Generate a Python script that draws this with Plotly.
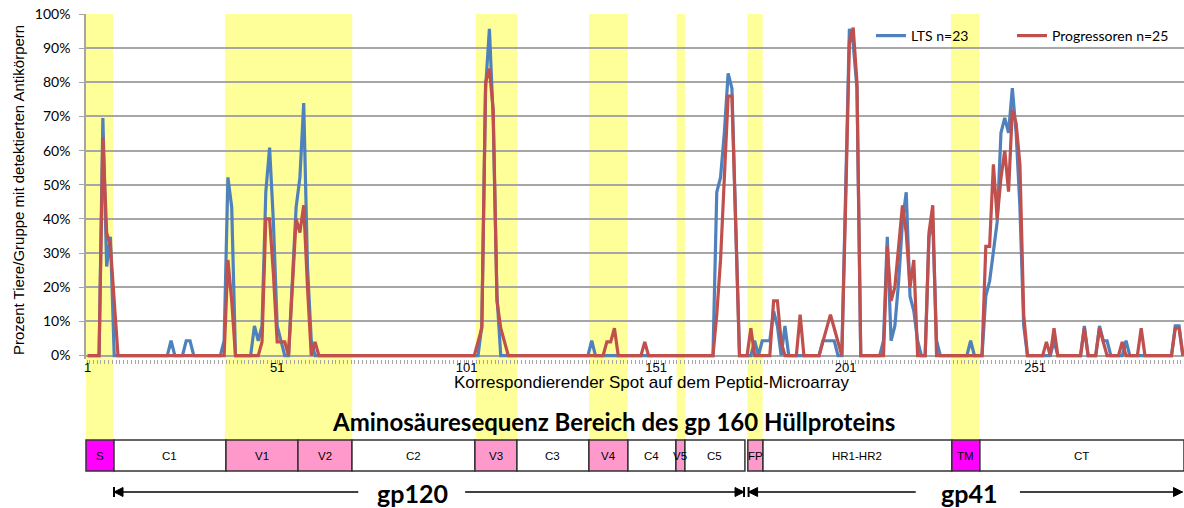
import plotly.graph_objects as go

# ---- peptide spot numbers and reactivity (% of animals per group) ----
spots = list(range(1, 291))

lts = [
    0, 0, 0, 0, 69.57, 26.09, 34.78, 0, 0, 0,
    0, 0, 0, 0, 0, 0, 0, 0, 0, 0,
    0, 0, 4.35, 0, 0, 0, 4.35, 4.35, 0, 0,
    0, 0, 0, 0, 0, 0, 4.35, 52.17, 43.48, 0,
    0, 0, 0, 0, 8.70, 4.35, 8.70, 47.83, 60.87, 39.13,
    8.70, 4.35, 0, 0, 21.74, 43.48, 52.17, 73.91, 26.09, 4.35,
    0, 0, 0, 0, 0, 0, 0, 0, 0, 0,
    0, 0, 0, 0, 0, 0, 0, 0, 0, 0,
    0, 0, 0, 0, 0, 0, 0, 0, 0, 0,
    0, 0, 0, 0, 0, 0, 0, 0, 0, 0,
    0, 0, 0, 0, 8.70, 78.26, 95.65, 69.57, 17.39, 0,
    0, 0, 0, 0, 0, 0, 0, 0, 0, 0,
    0, 0, 0, 0, 0, 0, 0, 0, 0, 0,
    0, 0, 0, 4.35, 0, 0, 0, 0, 0, 0,
    0, 0, 0, 0, 0, 0, 0, 0, 0, 0,
    0, 0, 0, 0, 0, 0, 0, 0, 0, 0,
    0, 0, 0, 0, 0, 0, 47.83, 52.17, 65.22, 82.61,
    78.26, 39.13, 0, 0, 0, 0, 4.35, 0, 4.35, 4.35,
    4.35, 13.04, 8.70, 0, 8.70, 0, 0, 0, 0, 0,
    0, 0, 0, 0, 4.35, 4.35, 4.35, 4.35, 0, 0,
    47.83, 95.65, 91.30, 78.26, 0, 0, 0, 0, 0, 0,
    4.35, 34.78, 4.35, 8.70, 21.74, 39.13, 47.83, 17.39, 13.04, 4.35,
    0, 0, 34.78, 39.13, 4.35, 0, 0, 0, 0, 0,
    0, 0, 0, 4.35, 0, 0, 0, 17.39, 21.74, 30.43,
    39.13, 65.22, 69.57, 65.22, 78.26, 65.22, 43.48, 8.70, 0, 0,
    0, 0, 0, 0, 0, 4.35, 0, 0, 0, 0,
    0, 0, 0, 8.70, 0, 0, 0, 8.70, 4.35, 4.35,
    0, 0, 0, 0, 4.35, 0, 0, 0, 0, 0,
    0, 0, 0, 0, 0, 0, 0, 8.70, 8.70, 0,
]

progressoren = [
    0, 0, 0, 0, 64, 36, 32, 16, 0, 0,
    0, 0, 0, 0, 0, 0, 0, 0, 0, 0,
    0, 0, 0, 0, 0, 0, 0, 0, 0, 0,
    0, 0, 0, 0, 0, 0, 0, 28, 16, 0,
    0, 0, 0, 0, 0, 0, 4, 40, 40, 24,
    4, 4, 4, 0, 20, 40, 36, 44, 20, 0,
    4, 0, 0, 0, 0, 0, 0, 0, 0, 0,
    0, 0, 0, 0, 0, 0, 0, 0, 0, 0,
    0, 0, 0, 0, 0, 0, 0, 0, 0, 0,
    0, 0, 0, 0, 0, 0, 0, 0, 0, 0,
    0, 0, 0, 4, 8, 80, 84, 72, 16, 8,
    4, 0, 0, 0, 0, 0, 0, 0, 0, 0,
    0, 0, 0, 0, 0, 0, 0, 0, 0, 0,
    0, 0, 0, 0, 0, 0, 0, 4, 4, 8,
    0, 0, 0, 0, 0, 0, 0, 4, 0, 0,
    0, 0, 0, 0, 0, 0, 0, 0, 0, 0,
    0, 0, 0, 0, 0, 0, 12, 28, 52, 76,
    76, 40, 0, 0, 0, 8, 0, 0, 0, 0,
    0, 16, 16, 4, 0, 0, 0, 0, 12, 0,
    0, 0, 0, 0, 4, 8, 12, 8, 4, 0,
    44, 92, 96, 80, 0, 0, 0, 0, 0, 0,
    0, 32, 16, 20, 32, 44, 36, 20, 28, 0,
    0, 0, 36, 44, 0, 0, 0, 0, 0, 0,
    0, 0, 0, 0, 0, 0, 0, 32, 32, 56,
    40, 52, 60, 48, 72, 68, 56, 12, 0, 0,
    0, 0, 0, 4, 0, 8, 0, 0, 0, 0,
    0, 0, 0, 8, 0, 0, 0, 8, 4, 0,
    0, 0, 0, 4, 0, 0, 0, 0, 8, 0,
    0, 0, 0, 0, 0, 0, 0, 8, 8, 0,
]

x_tick_vals = [1, 51, 101, 151, 201, 251]
y_tick_vals = [0, 10, 20, 30, 40, 50, 60, 70, 80, 90, 100]
y_tick_text = [f"{v}%" for v in y_tick_vals]

# gp160 domain map (in spot units)
region_names = ["S", "C1", "V1", "V2", "C2", "V3", "C3", "V4", "C4",
                "V5", "C5", "FP", "HR1-HR2", "TM", "CT"]
region_start = [0.55, 7.94, 37.49, 56.49, 70.74, 103.19, 114.27, 133.27,
                143.56, 156.23, 158.6, 175.2, 179.2, 229.05, 236.44]
region_end = [7.94, 37.49, 56.49, 70.74, 103.19, 114.27, 133.27, 143.56,
              156.23, 158.6, 174.43, 179.2, 229.05, 236.44, 290.3]
region_fill = ["#FF00FF", "#FFFFFF", "#FF99CC", "#FF99CC", "#FFFFFF",
               "#FF99CC", "#FFFFFF", "#FF99CC", "#FFFFFF", "#FF99CC",
               "#FFFFFF", "#FF99CC", "#FFFFFF", "#FF00FF", "#FFFFFF"]

# highlighted (variable / signal / fusion / transmembrane) stretches
band_start = [0.55, 37.2, 103.4, 133.3, 156.4, 175.1, 228.8]
band_end = [7.68, 70.8, 114.3, 143.5, 158.6, 179.1, 236.3]

# gp120 / gp41 arrows: (start, end, head side)
arrow_segments = [(7.94, 72.4, "left"), (100.6, 174.2, "right"),
                  (175.4, 219.5, "left"), (247.0, 289.9, "right")]
protein_labels = ["gp120", "gp41"]
protein_label_x = [86.6, 233.5]

X0, X1 = 0.55, 290.3
W, H = 1184, 508
M_L, M_R, M_T, M_B = 86, 0, 14, 149
PLOT_W = W - M_L - M_R
PLOT_H = H - M_T - M_B


def xp(s):
    return (s - X0) / (X1 - X0)


def yp(py):
    return (H - M_B - py) / PLOT_H


BLUE = "#4F81BD"
RED = "#C0504D"
GRID = "#A6A6A6"

fig = go.Figure()
fig.add_trace(go.Scatter(x=spots, y=lts, mode="lines", name="LTS n=23",
                         line=dict(color=BLUE, width=3.2), legend="legend"))
fig.add_trace(go.Scatter(x=spots, y=progressoren, mode="lines",
                         name="Progressoren n=25",
                         line=dict(color=RED, width=3.2), legend="legend2"))

shapes = []
# yellow highlight bands, running down to the domain map
for a, b in zip(band_start, band_end):
    shapes.append(dict(type="rect", xref="paper", yref="paper",
                       x0=xp(a), x1=xp(b), y0=yp(440), y1=1.0,
                       fillcolor="#FFFF99", line=dict(width=0), layer="below"))

# domain boxes
annotations = []
for name, a, b, fc in zip(region_names, region_start, region_end, region_fill):
    shapes.append(dict(type="rect", xref="paper", yref="paper",
                       x0=xp(a), x1=xp(b), y0=yp(471), y1=yp(440),
                       fillcolor=fc, line=dict(color="#333333", width=1.5)))
    annotations.append(dict(text=name, xref="paper", yref="paper",
                            x=xp((a + b) / 2), y=yp(456), showarrow=False,
                            font=dict(family="Liberation Sans", size=11.5,
                                      color="#000000"),
                            xanchor="center", yanchor="middle"))

# arrows for gp120 / gp41
ya = yp(492)
for a, b, side in arrow_segments:
    shapes.append(dict(type="line", xref="paper", yref="paper",
                       x0=xp(a), x1=xp(b), y0=ya, y1=ya,
                       line=dict(color="#000000", width=1.5)))
    tip = a if side == "left" else b
    d = 1 if side == "left" else -1
    hx = 9 / PLOT_W  # head length in paper units
    hy = 4.5 / PLOT_H
    tx = xp(tip)
    shapes.append(dict(type="path", xref="paper", yref="paper",
                       path=f"M {tx},{ya} L {tx + d * hx},{ya + hy} "
                            f"L {tx + d * hx},{ya - hy} Z",
                       fillcolor="#000000", line=dict(color="#000000", width=1)))
    if tip < 289:
        shapes.append(dict(type="line", xref="paper", yref="paper",
                           x0=tx, x1=tx, y0=ya - 5 / PLOT_H, y1=ya + 5 / PLOT_H,
                           line=dict(color="#000000", width=2)))

for lab, lx in zip(protein_labels, protein_label_x):
    annotations.append(dict(text=f"<b>{lab}</b>", xref="paper", yref="paper",
                            x=xp(lx), y=yp(492.5), showarrow=False,
                            font=dict(family="Lato", size=25, color="#000000"),
                            xanchor="center", yanchor="middle"))

annotations.append(dict(text="Korrespondierender Spot auf dem Peptid-Microarray",
                        xref="paper", yref="paper", x=(651 - M_L) / PLOT_W,
                        y=yp(382), showarrow=False,
                        font=dict(family="Liberation Sans", size=17,
                                  color="#000000"),
                        xanchor="center", yanchor="middle"))
annotations.append(dict(text="<b>Aminosäuresequenz Bereich des gp 160 Hüllproteins</b>",
                        xref="paper", yref="paper", x=(613 - M_L) / PLOT_W,
                        y=yp(421), showarrow=False,
                        font=dict(family="Lato", size=24, color="#000000"),
                        xanchor="center", yanchor="middle"))
annotations.append(dict(text="Prozent Tiere/Gruppe mit detektierten Antikörpern",
                        xref="paper", yref="paper", x=(18 - M_L) / PLOT_W,
                        y=yp(190), showarrow=False, textangle=-90,
                        font=dict(family="Liberation Sans", size=15,
                                  color="#000000"),
                        xanchor="center", yanchor="middle"))

legend_style = dict(orientation="h", xanchor="left", y=yp(20), yanchor="top",
                    bgcolor="rgba(0,0,0,0)", itemwidth=30,
                    font=dict(family="Lato", size=14, color="#000000"))

fig.update_layout(
    width=W, height=H,
    margin=dict(l=M_L, r=M_R, t=M_T, b=M_B, pad=0, autoexpand=False),
    paper_bgcolor="#FFFFFF", plot_bgcolor="rgba(0,0,0,0)",
    shapes=shapes, annotations=annotations,
    showlegend=True,
    legend=dict(x=(871 - M_L) / PLOT_W, **legend_style),
    legend2=dict(x=(1012 - M_L) / PLOT_W, **legend_style),
    xaxis=dict(range=[X0, X1], showgrid=False, zeroline=False, showline=False,
               tickvals=x_tick_vals, ticks="outside", ticklen=4,
               tickcolor=GRID, tickwidth=1,
               tickfont=dict(family="Liberation Sans", size=13, color="#000000"),
               minor=dict(ticks="outside", ticklen=4, tick0=0.5, dtick=1,
                          tickcolor=GRID, tickwidth=1, showgrid=False),
               ticklabelstandoff=-8),
    yaxis=dict(range=[-1, 100], tickvals=y_tick_vals, ticktext=y_tick_text,
               showgrid=True, gridcolor=GRID, gridwidth=1.6, zeroline=False,
               showline=True, linecolor=GRID, linewidth=1.5,
               ticks="outside", ticklen=5, tickcolor=GRID,
               tickfont=dict(family="Lato", size=14, color="#000000"),
               ticklabelstandoff=6),
)

fig.write_html("out.html")
